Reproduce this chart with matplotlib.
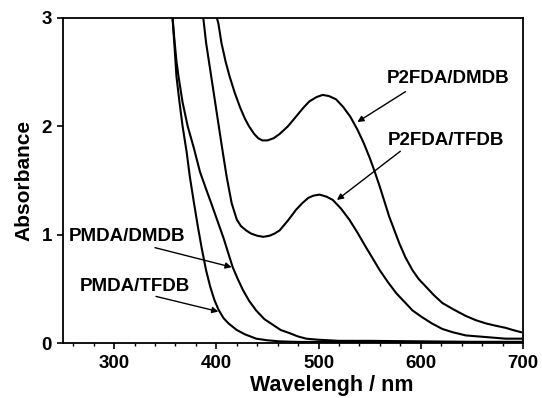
import matplotlib.pyplot as plt
from matplotlib.ticker import MultipleLocator

plt.rcParams['font.family'] = ['Liberation Sans', 'DejaVu Sans']
plt.rcParams['font.weight'] = 'bold'

# data (wavelength nm, absorbance)
p2fda_dmdb_wl = [400, 402, 405, 409, 413, 418, 423, 428, 432, 437, 441, 445, 450, 456, 462, 470, 478, 485, 491,
                 498, 504, 510, 517, 524, 531, 538, 544, 550, 555, 560, 569, 579, 585, 592, 598, 605, 613,
                 621, 632, 644, 654, 664, 673, 683, 690, 698]
p2fda_dmdb_abs = [3.02, 2.95, 2.77, 2.60, 2.46, 2.31, 2.18, 2.07, 2.00, 1.93, 1.89, 1.87, 1.87, 1.89, 1.93, 2.00, 2.09, 2.17,
                  2.23, 2.27, 2.29, 2.28, 2.25, 2.18, 2.09, 1.97, 1.85, 1.71, 1.58, 1.44, 1.17, 0.92, 0.79, 0.67,
                  0.59, 0.52, 0.44, 0.37, 0.31, 0.25, 0.21, 0.18, 0.16, 0.14, 0.12, 0.10]

p2fda_tfdb_wl = [387, 390, 395, 400, 405, 410, 415, 420, 424, 429, 434, 440, 446, 452, 457, 462, 470, 478, 484, 490,
                 495, 501, 508, 514, 522, 530, 538, 546, 553, 560, 568, 576, 584, 592, 601, 611, 621, 631,
                 644, 657, 670, 683, 700]
p2fda_tfdb_abs = [3.02, 2.77, 2.46, 2.15, 1.84, 1.54, 1.29, 1.14, 1.08, 1.04, 1.01, 0.99, 0.98, 0.99, 1.01, 1.04, 1.13, 1.23, 1.29, 1.34,
                  1.36, 1.37, 1.35, 1.32, 1.24, 1.14, 1.02, 0.89, 0.78, 0.67, 0.56, 0.46, 0.38, 0.30, 0.24, 0.18, 0.13, 0.10,
                  0.07, 0.06, 0.05, 0.04, 0.04]

pmda_dmdb_wl = [357, 359, 361, 363, 367, 372, 378, 384, 390, 395, 401, 407, 412, 416, 421, 426, 432, 439, 447, 455,
                463, 472, 480, 488, 500, 520, 550, 600, 650, 700]
pmda_dmdb_abs = [3.02, 2.80, 2.60, 2.46, 2.22, 2.00, 1.80, 1.58, 1.42, 1.29, 1.13, 0.97, 0.82, 0.70, 0.59, 0.49, 0.39, 0.30, 0.22, 0.17,
                 0.12, 0.09, 0.06, 0.04, 0.03, 0.02, 0.02, 0.015, 0.01, 0.01]

pmda_tfdb_wl = [357, 359, 361, 364, 367, 371, 374, 378, 382, 386, 390, 394, 398, 402, 407, 412, 420, 428, 439, 450,
                462, 480, 520, 600, 700]
pmda_tfdb_abs = [3.02, 2.75, 2.46, 2.22, 2.00, 1.76, 1.54, 1.30, 1.07, 0.86, 0.67, 0.52, 0.40, 0.31, 0.23, 0.18, 0.12, 0.08, 0.04, 0.025,
                 0.015, 0.01, 0.01, 0.01, 0.01]

fig = plt.figure(figsize=(5.42, 3.98), dpi=100)
ax = fig.add_axes([63 / 542, 55 / 398, 460 / 542, 325 / 398])

for wl, ab in [(p2fda_dmdb_wl, p2fda_dmdb_abs), (p2fda_tfdb_wl, p2fda_tfdb_abs),
               (pmda_dmdb_wl, pmda_dmdb_abs), (pmda_tfdb_wl, pmda_tfdb_abs)]:
    ax.plot(wl, ab, color='black', linewidth=1.5, solid_joinstyle='round')

ax.set_xlim(250, 700)
ax.set_ylim(0, 3)
ax.xaxis.set_major_locator(MultipleLocator(100))
ax.xaxis.set_minor_locator(MultipleLocator(20))
ax.yaxis.set_major_locator(MultipleLocator(1))
ax.tick_params(axis='both', which='major', direction='out', length=4.5, width=1.2, labelsize=13.5)
ax.tick_params(axis='x', which='major', pad=4)
ax.tick_params(axis='x', which='minor', direction='out', length=2.5, width=1.0)
for s in ax.spines.values():
    s.set_linewidth(1.3)

ax.set_xlabel('Wavelengh / nm', fontsize=15.5, fontweight='bold')
ax.xaxis.set_label_coords(0.584, -0.1)
ax.xaxis.label.set_va('top')
ax.set_ylabel('Absorbance', fontsize=15, fontweight='bold', labelpad=6)

arrow = dict(arrowstyle='-|>', color='black', lw=1.0, mutation_scale=9, shrinkA=0, shrinkB=0)
ax.text(627, 2.44, 'P2FDA/DMDB', fontsize=13.5, fontweight='bold', ha='center', va='center')
ax.annotate('', xy=(538, 2.04), xytext=(585, 2.32), arrowprops=arrow)
ax.text(625, 1.865, 'P2FDA/TFDB', fontsize=13.5, fontweight='bold', ha='center', va='center')
ax.annotate('', xy=(518, 1.32), xytext=(580, 1.77), arrowprops=arrow)
ax.text(313, 0.98, 'PMDA/DMDB', fontsize=13.5, fontweight='bold', ha='center', va='center')
ax.annotate('', xy=(415, 0.70), xytext=(340, 0.88), arrowprops=arrow)
ax.text(320, 0.52, 'PMDA/TFDB', fontsize=13.5, fontweight='bold', ha='center', va='center')
ax.annotate('', xy=(402, 0.29), xytext=(341, 0.43), arrowprops=arrow)

fig.savefig('out.png', dpi=100)
